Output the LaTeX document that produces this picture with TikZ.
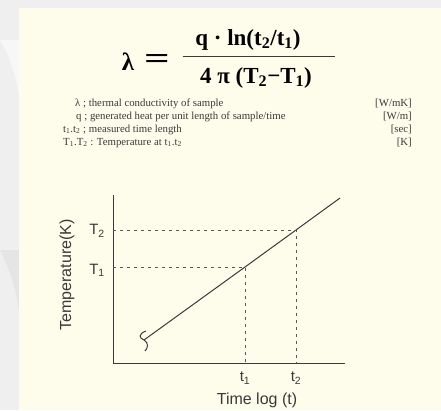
\documentclass[tikz,border=0pt]{standalone}
\usepackage{fontspec}
\setmainfont{Liberation Serif}
\setsansfont{Liberation Sans}
\usepackage{graphicx}
\usetikzlibrary{positioning, calc}
\definecolor{panel}{HTML}{FEFCEB}
\definecolor{backdrop}{HTML}{EFEFEF}
\definecolor{ink}{HTML}{3A3A3A}
\newcommand{\lowidx}[1]{\textsubscript{#1}}
\tikzstyle{formula} = [inner sep=0pt, anchor=base, font=\bfseries\fontsize{23}{23}\selectfont]
\tikzstyle{defn} = [inner sep=0pt, anchor=base west, font=\fontsize{10.8}{12}\selectfont, text=ink]
\tikzstyle{unit} = [inner sep=0pt, anchor=base east, font=\fontsize{10.8}{12}\selectfont, text=ink]
\tikzstyle{lbl} = [inner sep=0pt, font=\sffamily\fontsize{15}{15}\selectfont, text=ink]
\tikzstyle{axis} = [draw=ink, line width=1pt]
\tikzstyle{guide} = [draw=ink!85, line width=0.9pt, dash pattern=on 3pt off 4pt]

\begin{document}
\begin{tikzpicture}[x=1pt, y=-1pt]
    % Background
    \fill[backdrop] (0,0) rectangle (441,410);
    \fill[white, opacity=0.5] (0,40) .. controls (12,60) and (16,80) .. (19,95) -- (19,40) -- cycle;
    \fill[black, opacity=0.04] (0,250) .. controls (10,270) and (16,290) .. (19,310) -- (19,250) -- cycle;
    \fill[panel] (19,7.5) rectangle (441,410);

    % Formula
    \node[formula, font=\bfseries\fontsize{25}{25}\selectfont] (lambda) at (128,70) {λ};
    \node[formula, font=\bfseries\fontsize{25}{25}\selectfont] (equals) at (157,68) {\scalebox{1.8}[1.2]{=}};
    \node[formula] (numer) at (248,45) {q · ln(t\lowidx{2}/t\lowidx{1})};
    \node[formula] (denom) at (256,83) {4 π (T\lowidx{2}−T\lowidx{1})};
    \coordinate (barl) at (183,56);
    \coordinate (barr) at (335,56);
    \draw[ink, line width=0.9pt] (barl) -- (barr);

    % Definitions
    \node[defn] (dlambda) at (75,106) {λ ; thermal conductivity of sample};
    \node[defn] (dq) at (76,119) {q ; generated heat per unit length of sample/time};
    \node[defn] (dt) at (63,132) {t\lowidx{1}.t\lowidx{2} ; measured time length};
    \node[defn] (dT) at (63,145) {T\lowidx{1}.T\lowidx{2} : Temperature at t\lowidx{1}.t\lowidx{2}};
    \node[unit] (ulambda) at (412,106) {[W/mK]};
    \node[unit] (uq) at (412,119) {[W/m]};
    \node[unit] (ut) at (412,132) {[sec]};
    \node[unit] (uT) at (412,145) {[K]};

    % Axes
    \coordinate (origin) at (113,363);
    \coordinate (ytop) at (113,195);
    \coordinate (xend) at (345,363);
    \draw[axis] (ytop) -- (origin) -- (xend);

    % Curve
    \coordinate (start) at (144,340);
    \coordinate (p1) at (245,267);
    \coordinate (p2) at (296,230);
    \coordinate (finish) at (340,198);
    \draw[axis] (start) -- (p1) -- (p2) -- (finish);
    \draw[axis] (146,331) .. controls (138,334) and (139,338) .. (start)
                .. controls (149,343) and (148,348) .. (145,351);

    % Guides
    \draw[guide] (ytop |- p2) -- (p2) -- (p2 |- origin);
    \draw[guide] (ytop |- p1) -- (p1) -- (p1 |- origin);

    % Labels
    \node[lbl, left=8pt of {ytop |- p2}, yshift=-1pt] (T2) {T\lowidx{2}};
    \node[lbl, left=8pt of {ytop |- p1}, yshift=-3pt] (T1) {T\lowidx{1}};
    \node[lbl, below=9pt of {p1 |- origin}] (t1) {t\lowidx{1}};
    \node[lbl, below=9pt of {p2 |- origin}] (t2) {t\lowidx{2}};
    \node[lbl, font=\sffamily\fontsize{16}{16}\selectfont] (xlabel) at (257,400) {Time log (t)};
    \node[lbl, font=\sffamily\fontsize{16}{16}\selectfont, rotate=90] (ylabel) at (67,275) {Temperature(K)};
\end{tikzpicture}
\end{document}
